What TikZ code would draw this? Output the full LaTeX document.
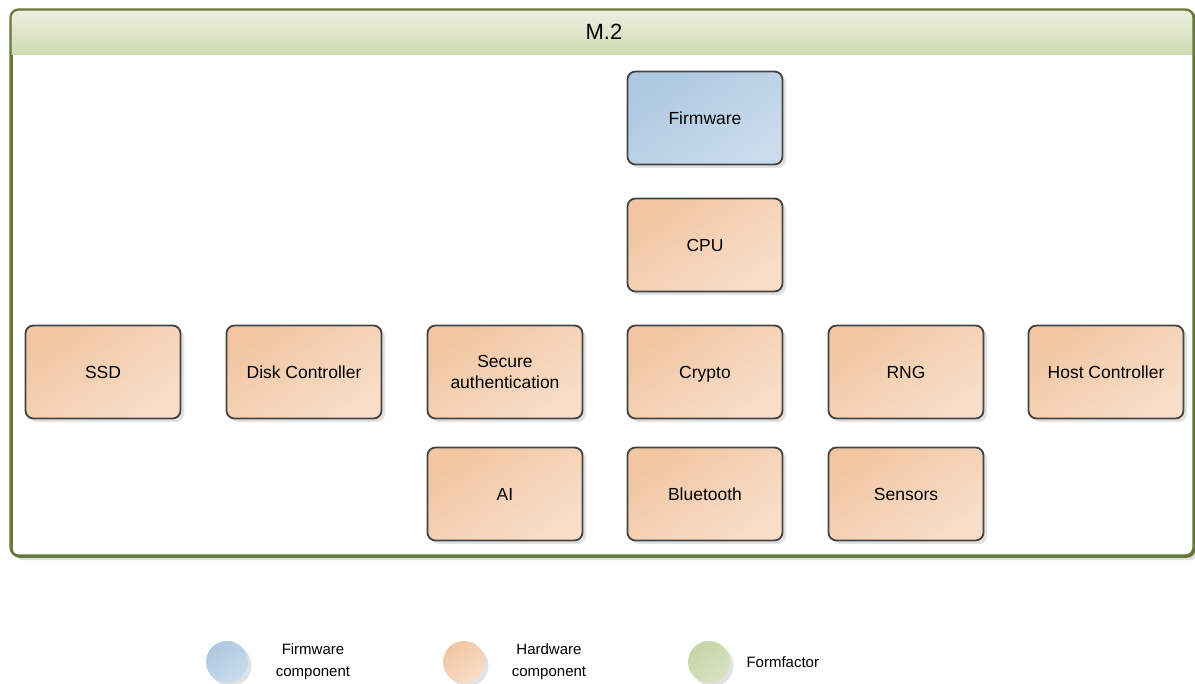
\documentclass[tikz,border=0pt]{standalone}
\usepackage{fontspec}
\setmainfont{Liberation Sans}
\usetikzlibrary{shadows}
\definecolor{hwA}{HTML}{F1C6A1}
\definecolor{hwB}{HTML}{F8DEC9}
\definecolor{fwA}{HTML}{ADC8E0}
\definecolor{fwB}{HTML}{CADCEC}
\definecolor{ffA}{HTML}{C6D5A7}
\definecolor{ffB}{HTML}{D8E2C2}
\definecolor{hdA}{HTML}{ECF0E2}
\definecolor{hdB}{HTML}{CEDBB1}
\definecolor{frame}{HTML}{68783A}
\definecolor{boxline}{HTML}{444444}
\definecolor{shade}{HTML}{E2E2E2}
\tikzset{
  myshadow/.style={drop shadow={shadow xshift=3.5pt, shadow yshift=-3.5pt, fill=shade, opacity=1}},
  compbox/.style={rectangle, rounded corners=8pt, minimum width=155pt, minimum height=93pt,
    draw=boxline, line width=1.8pt, align=center, myshadow, text depth=0pt,
    font=\fontsize{17.5}{21}\selectfont},
  hwbox/.style={compbox, top color=hwA, bottom color=hwB, shading angle=35},
  fwbox/.style={compbox, top color=fwA, bottom color=fwB, shading angle=35},
  legdot/.style={circle, minimum size=42pt, inner sep=0pt, myshadow},
  legtext/.style={align=center, font=\fontsize{15}{22}\selectfont},
}
\begin{document}
\begin{tikzpicture}[x=1pt,y=-1pt]
\useasboundingbox (0,0) rectangle (1195,684);
% container
\node[rectangle, rounded corners=8pt, draw=frame, line width=2.3pt, fill=white, myshadow,
  minimum width=1183pt, minimum height=546pt, anchor=north west, inner sep=0pt] (m2) at (10.5,9.5) {};
\begin{scope}
  \clip[rounded corners=8pt] (10.5,9.5) rectangle (1193.5,555.5);
  \shade[top color=hdA, bottom color=hdB] (10.5,9.5) rectangle (1193.5,55);
\end{scope}
\draw[frame, line width=2.3pt, rounded corners=8pt] (10.5,9.5) rectangle (1193.5,555.5);
\node[font=\fontsize{22}{26}\selectfont] (title) at (604,32) {M.2};
% components
\node[fwbox] (fw) at (705,118) {Firmware};
\node[hwbox] (cpu) at (705,245) {CPU};
\node[hwbox] (ssd) at (103,372) {SSD};
\node[hwbox] (disk) at (304,372) {Disk Controller};
\node[hwbox] (sec) at (505,372) {Secure\\authentication};
\node[hwbox] (crypto) at (705,372) {Crypto};
\node[hwbox] (rng) at (906,372) {RNG};
\node[hwbox] (host) at (1106,372) {Host Controller};
\node[hwbox] (ai) at (505,494) {AI};
\node[hwbox] (bt) at (705,494) {Bluetooth};
\node[hwbox] (sens) at (906,494) {Sensors};
% legend
\node[legdot, top color=fwA, bottom color=fwB, shading angle=35] (lfw) at (227,662) {};
\node[legtext] (lfwt) at (313,662) {Firmware\\component};
\node[legdot, top color=hwA, bottom color=hwB, shading angle=35] (lhw) at (464,662) {};
\node[legtext] (lhwt) at (549,662) {Hardware\\component};
\node[legdot, top color=ffA, bottom color=ffB, shading angle=35] (lff) at (709,662) {};
\node[legtext, anchor=west] (lfft) at (743,662) {Formfactor};
\end{tikzpicture}
\end{document}
